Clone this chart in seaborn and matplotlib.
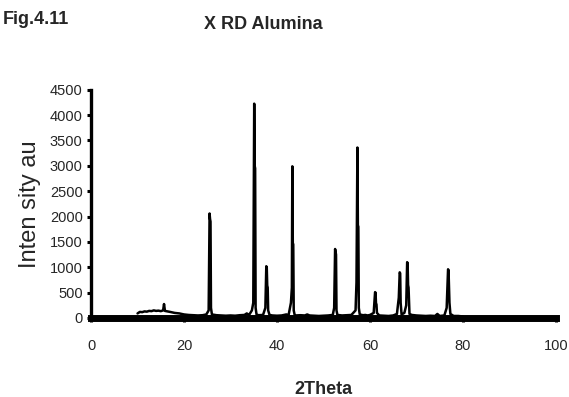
import matplotlib
matplotlib.use("Agg")
import matplotlib.pyplot as plt
import seaborn as sns
import pandas as pd

# XRD scan of alumina: diffraction angle (2θ, degrees) and measured intensity (a.u.)
two_theta = [
    10.0, 10.5, 11.0, 11.5, 12.0, 12.5, 13.0, 13.5, 14.0, 14.5, 15.0, 15.5, 15.7, 15.9,
    16.5, 17.0, 17.5, 18.0, 18.5, 19.0, 19.5, 20.0, 21.0, 22.0, 23.0, 24.0, 24.8,
    25.3, 25.5, 25.6, 25.7, 25.8, 26.0, 27.0, 28.0, 29.0, 30.0, 31.0, 32.0, 33.0,
    33.5, 34.0, 34.6, 34.9, 35.1, 35.2, 35.3, 35.4, 35.6, 36.0, 37.0, 37.5, 37.7,
    37.8, 37.9, 38.0, 38.1, 38.4, 39.0, 40.0, 41.0, 42.0, 42.5, 43.0, 43.2, 43.3,
    43.4, 43.5, 43.6, 43.8, 44.0, 45.0, 46.0, 46.5, 47.0, 48.0, 49.0, 50.0, 51.0,
    52.0, 52.3, 52.5, 52.6, 52.7, 52.8, 53.0, 54.0, 55.0, 56.0, 56.9, 57.1, 57.3,
    57.4, 57.5, 57.6, 57.8, 58.5, 59.0, 59.5, 60.0, 60.8, 61.1, 61.2, 61.3, 61.4,
    61.5, 62.0, 63.0, 64.0, 65.0, 65.8, 66.2, 66.4, 66.5, 66.6, 66.8, 67.4, 67.8,
    68.0, 68.1, 68.2, 68.3, 68.5, 69.0, 70.0, 71.0, 72.0, 73.0, 74.0, 74.5, 75.0,
    76.0, 76.5, 76.7, 76.8, 76.9, 77.0, 77.1, 77.3, 78.0, 79.0, 80.0,
]
intensity = [
    90, 120, 115, 130, 125, 140, 135, 150, 140, 145, 135, 150, 275, 140,
    130, 120, 110, 100, 95, 90, 80, 70, 60, 55, 50, 55, 70,
    150, 2060, 1950, 1900, 200, 70, 55, 50, 45, 50, 45, 55, 60,
    90, 60, 150, 300, 4225, 3000, 2950, 200, 70, 55, 60, 200, 1020,
    1000, 640, 600, 150, 60, 50, 45, 50, 70, 60, 300, 600, 2990,
    1480, 1450, 150, 60, 50, 55, 50, 70, 50, 45, 40, 45, 50,
    60, 200, 1360, 1300, 1250, 150, 60, 50, 55, 60, 150, 700, 3360,
    1830, 1800, 200, 70, 55, 60, 50, 60, 100, 510, 500, 280, 270,
    100, 50, 45, 40, 50, 80, 400, 900, 880, 300, 70, 100, 250,
    1100, 1080, 650, 600, 80, 60, 50, 45, 40, 45, 40, 80, 40,
    50, 200, 700, 960, 940, 600, 300, 80, 40, 40, 30,
]
x_ticks = [0, 20, 40, 60, 80, 100]
y_ticks = [0, 500, 1000, 1500, 2000, 2500, 3000, 3500, 4000, 4500]

df = pd.DataFrame({"2Theta": two_theta, "Intensity": intensity})

sns.set_style("ticks")
plt.rcParams["font.family"] = ["Liberation Sans", "DejaVu Sans"]

fig = plt.figure(figsize=(5.69, 3.97), dpi=100)
ax = fig.add_axes([0.160, 0.199, 0.817, 0.575])

sns.lineplot(data=df, x="2Theta", y="Intensity", color="black", linewidth=1.8,
             ax=ax, estimator=None, sort=False)

ax.set_xlim(0, 100)
ax.set_ylim(0, 4500)
ax.set_xticks(x_ticks)
ax.set_yticks(y_ticks)
ax.tick_params(axis="both", direction="out", length=3, width=2.2, color="black",
               labelsize=10.5, pad=3)
ax.tick_params(axis="x", pad=12)

for side in ("top", "right"):
    ax.spines[side].set_visible(False)
ax.spines["left"].set_linewidth(2.4)
ax.spines["bottom"].set_linewidth(5.0)
ax.spines["left"].set_color("black")
ax.spines["bottom"].set_color("black")

ax.set_xlabel("2Theta", fontsize=13, fontweight="bold", labelpad=20)
ax.set_ylabel("Inten sity au", fontsize=17, labelpad=6)

fig.text(0.004, 0.950, "Fig.4.11", fontsize=13, fontweight="bold",
         ha="left", va="center")
fig.text(0.462, 0.938, "X RD Alumina", fontsize=13, fontweight="bold",
         ha="center", va="center")

fig.savefig("out.png", dpi=100, facecolor="white")
